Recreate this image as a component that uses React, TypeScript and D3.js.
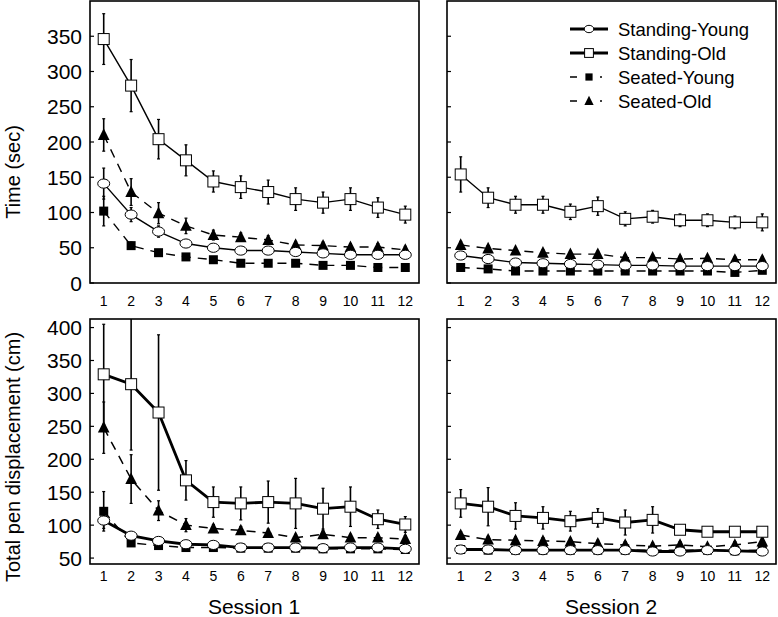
import React from "react";
import * as d3 from "d3";

// ---------- data ----------
const trials = [1, 2, 3, 4, 5, 6, 7, 8, 9, 10, 11, 12];
const seriesNames = ["Standing-Young", "Standing-Old", "Seated-Young", "Seated-Old"];

const timeTicks = [0, 50, 100, 150, 200, 250, 300, 350];
const penTicks = [50, 100, 150, 200, 250, 300, 350, 400];

// Session 1 - Time (sec)
const time1SY = [141, 97, 73, 56, 50, 46, 46, 44, 42, 40, 40, 40];
const time1SYe = [22, 10, 8, 5, 4, 4, 4, 4, 4, 4, 4, 4];
const time1SO = [346, 280, 204, 174, 144, 136, 129, 119, 114, 119, 107, 97];
const time1SOe = [36, 37, 28, 22, 15, 16, 17, 16, 15, 16, 14, 12];
const time1SeY = [102, 53, 43, 37, 33, 28, 28, 28, 25, 25, 22, 22];
const time1SeYe = [21, 5, 4, 3, 3, 3, 3, 3, 3, 3, 3, 3];
const time1SeO = [210, 129, 99, 81, 68, 65, 61, 54, 53, 51, 51, 47];
const time1SeOe = [23, 19, 15, 11, 7, 6, 6, 5, 5, 5, 5, 5];

// Session 2 - Time (sec)
const time2SY = [39, 34, 29, 28, 27, 26, 25, 25, 24, 24, 24, 24];
const time2SYe = [5, 4, 3, 3, 3, 3, 3, 3, 3, 3, 3, 3];
const time2SO = [154, 121, 111, 111, 101, 109, 91, 94, 89, 89, 86, 86];
const time2SOe = [25, 14, 12, 12, 11, 13, 10, 9, 9, 9, 9, 12];
const time2SeY = [22, 20, 17, 17, 17, 17, 17, 17, 17, 17, 15, 18];
const time2SeYe = [3, 3, 3, 3, 3, 3, 3, 3, 3, 3, 3, 3];
const time2SeO = [54, 49, 46, 43, 41, 41, 36, 36, 34, 35, 33, 33];
const time2SeOe = [5, 4, 4, 4, 4, 4, 4, 4, 4, 4, 4, 4];

// Session 1 - Total pen displacement (cm)
const pen1SY = [107, 84, 76, 71, 70, 66, 66, 66, 65, 66, 66, 64];
const pen1SYe = [12, 5, 4, 3, 3, 3, 3, 3, 3, 3, 3, 3];
const pen1SO = [329, 314, 271, 168, 135, 133, 135, 133, 125, 128, 109, 101];
const pen1SOe = [76, 100, 118, 30, 23, 25, 32, 38, 31, 30, 14, 12];
const pen1SeY = [121, 73, 69, 66, 66, 65, 65, 65, 64, 64, 64, 63];
const pen1SeYe = [30, 5, 4, 3, 3, 3, 3, 3, 3, 3, 3, 3];
const pen1SeO = [248, 170, 122, 100, 95, 92, 88, 81, 86, 81, 81, 79];
const pen1SeOe = [39, 37, 15, 10, 6, 6, 6, 5, 5, 5, 5, 5];

// Session 2 - Total pen displacement (cm)
const pen2SY = [63, 63, 62, 62, 62, 62, 62, 60, 60, 62, 61, 60];
const pen2SYe = [3, 3, 3, 3, 3, 3, 3, 3, 3, 3, 3, 3];
const pen2SO = [133, 128, 114, 111, 106, 111, 104, 108, 93, 90, 90, 90];
const pen2SOe = [21, 29, 20, 17, 15, 14, 19, 20, 6, 5, 5, 5];
const pen2SeY = [63, 62, 62, 62, 62, 62, 62, 62, 62, 62, 61, 62];
const pen2SeYe = [3, 3, 3, 3, 3, 3, 3, 3, 3, 3, 3, 3];
const pen2SeO = [85, 78, 77, 76, 75, 72, 70, 68, 70, 67, 70, 75];
const pen2SeOe = [5, 5, 5, 5, 5, 5, 5, 5, 5, 5, 5, 5];

const FONT = "'Liberation Sans', Arial, sans-serif";

type Series = { name: string; values: number[]; errs: number[] };

const styles: Record<string, { dashed: boolean; marker: string }> = {
  "Standing-Young": { dashed: false, marker: "circle" },
  "Standing-Old": { dashed: false, marker: "osquare" },
  "Seated-Young": { dashed: true, marker: "fsquare" },
  "Seated-Old": { dashed: true, marker: "triangle" },
};

function Marker({ type, x, y, s = 1 }: { type: string; x: number; y: number; s?: number }) {
  if (type === "circle")
    return <ellipse cx={x} cy={y} rx={6 * s} ry={4.6 * s} fill="white" stroke="black" strokeWidth={1} />;
  if (type === "osquare")
    return <rect x={x - 5.5 * s} y={y - 5.5 * s} width={11 * s} height={11 * s} fill="white" stroke="black" strokeWidth={1} />;
  if (type === "fsquare")
    return <rect x={x - 4.5 * s} y={y - 4.5 * s} width={9 * s} height={9 * s} fill="black" />;
  const h = 11 * s;
  return (
    <path
      d={`M${x},${y - h * 0.6}L${x + 5.8 * s},${y + h * 0.45}L${x - 5.8 * s},${y + h * 0.45}Z`}
      fill="black"
    />
  );
}

function Panel(props: {
  id: string;
  x0: number; x1: number; y0: number; y1: number;
  domain: [number, number];
  ticks: number[];
  showYLabels: boolean;
  series: Series[];
  thick: boolean;
  xLabelY: number;
}) {
  const { id, x0, x1, y0, y1, domain, ticks, showYLabels, series, thick, xLabelY } = props;
  const x = d3.scaleLinear().domain([0.5, 12.5]).range([x0, x1]);
  const y = d3.scaleLinear().domain(domain).range([y1, y0]);
  const order = ["Seated-Old", "Seated-Young", "Standing-Old", "Standing-Young"];
  const sorted = order.map((n) => series.find((s) => s.name === n)!);
  return (
    <g>
      <defs>
        <clipPath id={id}>
          <rect x={x0} y={y0} width={x1 - x0} height={y1 - y0} />
        </clipPath>
      </defs>
      <g clipPath={`url(#${id})`}>
        {sorted.map((s) => {
          const st = styles[s.name];
          const line = d3.line<number>().x((_, i) => x(trials[i])).y((v) => y(v));
          const sw = st.dashed ? (thick ? 1.5 : 1.4) : thick ? 2.8 : 1.4;
          return (
            <g key={s.name}>
              {s.values.map((v, i) => (
                <g key={i}>
                  <line x1={x(trials[i])} x2={x(trials[i])} y1={y(v + s.errs[i])} y2={y(v - s.errs[i])} stroke="black" strokeWidth={1.6} />
                  <line x1={x(trials[i]) - 1.5} x2={x(trials[i]) + 1.5} y1={y(v + s.errs[i])} y2={y(v + s.errs[i])} stroke="black" strokeWidth={1.2} />
                  <line x1={x(trials[i]) - 1.5} x2={x(trials[i]) + 1.5} y1={y(v - s.errs[i])} y2={y(v - s.errs[i])} stroke="black" strokeWidth={1.2} />
                </g>
              ))}
              <path d={line(s.values) || ""} fill="none" stroke="black" strokeWidth={sw} strokeDasharray={st.dashed ? "9 7" : undefined} />
            </g>
          );
        })}
        {sorted.map((s) =>
          s.values.map((v, i) => (
            <Marker key={s.name + i} type={styles[s.name].marker} x={x(trials[i])} y={y(v)} />
          ))
        )}
      </g>
      <rect x={x0} y={y0} width={x1 - x0} height={y1 - y0} fill="none" stroke="black" strokeWidth={1.6} />
      {ticks.map((t) => (
        <g key={t}>
          <line x1={x0} x2={x0 + 4} y1={y(t)} y2={y(t)} stroke="black" strokeWidth={1.2} />
          {showYLabels && (
            <text x={x0 - 8} y={y(t)} dy="0.36em" textAnchor="end" fontFamily={FONT} fontSize={21}>
              {t}
            </text>
          )}
        </g>
      ))}
      {trials.map((t) => (
        <text key={t} x={x(t)} y={xLabelY} textAnchor="middle" fontFamily={FONT} fontSize={14}>
          {t}
        </text>
      ))}
    </g>
  );
}

function Legend({ x, y }: { x: number; y: number }) {
  return (
    <g>
      {seriesNames.map((n, i) => {
        const st = styles[n];
        const cy = y + i * 24;
        return (
          <g key={n}>
            {st.dashed ? (
              <line x1={x} x2={x + 40} y1={cy} y2={cy} stroke="black" strokeWidth={1.5} strokeDasharray="7 23 2 10" />
            ) : (
              <line x1={x} x2={x + 38} y1={cy} y2={cy} stroke="black" strokeWidth={3} />
            )}
            <Marker type={st.marker} x={x + 19} y={cy} s={0.8} />
            <text x={x + 48} y={cy} dy="0.36em" fontFamily={FONT} fontSize={18.5}>
              {n}
            </text>
          </g>
        );
      })}
    </g>
  );
}

const mk = (a: number[], ae: number[], b: number[], be: number[], c: number[], ce: number[], d: number[], de: number[]): Series[] => [
  { name: seriesNames[0], values: a, errs: ae },
  { name: seriesNames[1], values: b, errs: be },
  { name: seriesNames[2], values: c, errs: ce },
  { name: seriesNames[3], values: d, errs: de },
];

export default function App() {
  const t1 = mk(time1SY, time1SYe, time1SO, time1SOe, time1SeY, time1SeYe, time1SeO, time1SeOe);
  const t2 = mk(time2SY, time2SYe, time2SO, time2SOe, time2SeY, time2SeYe, time2SeO, time2SeOe);
  const p1 = mk(pen1SY, pen1SYe, pen1SO, pen1SOe, pen1SeY, pen1SeYe, pen1SeO, pen1SeOe);
  const p2 = mk(pen2SY, pen2SYe, pen2SO, pen2SOe, pen2SeY, pen2SeYe, pen2SeO, pen2SeOe);
  return (
    <svg width={778} height={617} style={{ position: "absolute", left: 0, top: 0, background: "white" }}>
      <rect width={778} height={617} fill="white" />
      <Panel id="c1" x0={90} x1={419} y0={1} y1={283} domain={[0, 400]} ticks={timeTicks} showYLabels series={t1} thick={false} xLabelY={306} />
      <Panel id="c2" x0={447} x1={776} y0={1} y1={283} domain={[0, 400]} ticks={timeTicks} showYLabels={false} series={t2} thick={false} xLabelY={306} />
      <Panel id="c3" x0={90} x1={419} y0={319} y1={564} domain={[41, 413]} ticks={penTicks} showYLabels series={p1} thick xLabelY={581} />
      <Panel id="c4" x0={447} x1={776} y0={319} y1={564} domain={[41, 413]} ticks={penTicks} showYLabels={false} series={p2} thick xLabelY={581} />
      <Legend x={570} y={29} />
      <text transform="translate(20,172) rotate(-90)" textAnchor="middle" fontFamily={FONT} fontSize={20}>
        Time (sec)
      </text>
      <text transform="translate(20,457) rotate(-90)" textAnchor="middle" fontFamily={FONT} fontSize={20}>
        Total pen displacement (cm)
      </text>
      <text x={254} y={614} textAnchor="middle" fontFamily={FONT} fontSize={21}>
        Session 1
      </text>
      <text x={611} y={614} textAnchor="middle" fontFamily={FONT} fontSize={21}>
        Session 2
      </text>
    </svg>
  );
}
